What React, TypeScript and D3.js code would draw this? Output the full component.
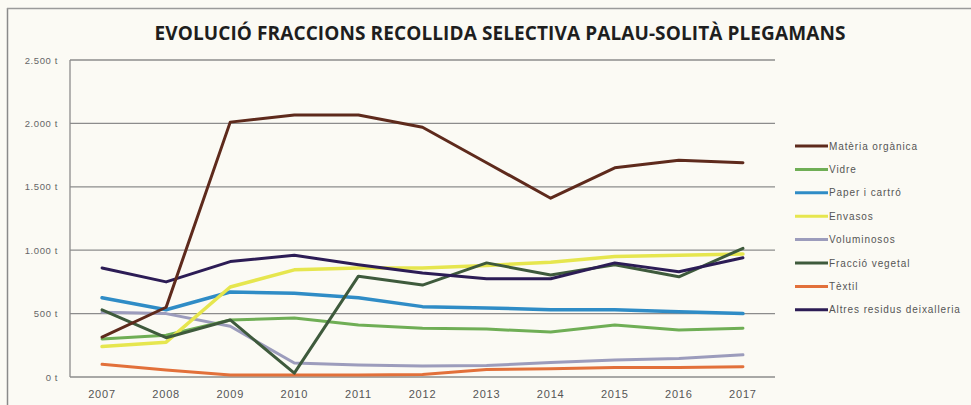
import React from "react";
import * as d3 from "d3";

const years = ["2007","2008","2009","2010","2011","2012","2013","2014","2015","2016","2017"];
const materiaOrganica = [315, 550, 2010, 2066, 2066, 1970, 1690, 1410, 1650, 1710, 1690];
const vidre = [300, 330, 450, 465, 410, 385, 378, 355, 410, 370, 385];
const paperCartro = [625, 530, 670, 660, 625, 555, 545, 530, 530, 515, 500];
const envasos = [240, 275, 710, 845, 860, 860, 880, 905, 950, 960, 970];
const voluminosos = [510, 500, 400, 110, 95, 87, 90, 115, 135, 145, 175];
const fraccioVegetal = [530, 310, 450, 30, 795, 725, 900, 805, 885, 790, 1015];
const textil = [100, 55, 15, 15, 15, 20, 60, 65, 75, 75, 80];
const altres = [860, 750, 910, 960, 885, 820, 775, 775, 900, 830, 940];
const yTicks = [0, 500, 1000, 1500, 2000, 2500];
const seriesNames = ["Matèria orgànica","Vidre","Paper i cartró","Envasos","Voluminosos","Fracció vegetal","Tèxtil","Altres residus deixalleria"];
const seriesColors = ["#5e2a1c","#6fae55","#2f8cc6","#e6e64e","#9c9cbc","#3e5a3c","#e2703a","#2c1c55"];
const seriesWidths = [3, 3, 3.5, 3.5, 3, 3, 3, 3];

export default function App() {
  const W = 971, H = 405;
  const left = 70, right = 775, top = 60, bottom = 377;
  const x = d3.scaleBand().domain(years).range([left, right]);
  const y = d3.scaleLinear().domain([0, 2500]).range([bottom, top]);
  const allSeries = [materiaOrganica, vidre, paperCartro, envasos, voluminosos, fraccioVegetal, textil, altres];
  const line = d3.line<number>()
    .x((_, i) => (x(years[i]) as number) + x.bandwidth() / 2)
    .y((d) => y(d));
  const drawOrder = [4, 6, 1, 2, 3, 5, 7, 0];
  const fmt = (v: number) => d3.format(",")(v).replace(/,/g, ".") + " t";
  return (
    <svg width={W} height={H} style={{ position: "absolute", left: 0, top: 0, background: "#fbfaf4" }}
      fontFamily="'Liberation Sans', Arial, sans-serif">
      <rect x={0} y={0} width={W} height={H} fill="#fbfaf4" />
      <line x1={7.5} x2={7.5} y1={8} y2={H} stroke="#8a8a8a" strokeWidth={1.5} />
      <line x1={7} x2={W} y1={8.5} y2={8.5} stroke="#9a9a9a" strokeWidth={1.5} />
      <text x={500} y={40} textAnchor="middle" fontSize={19} fontWeight="bold" fill="#1e1e1e"
        fontFamily="'Open Sans', 'Liberation Sans', sans-serif" letterSpacing={0.1}>
        EVOLUCIÓ FRACCIONS RECOLLIDA SELECTIVA PALAU-SOLITÀ PLEGAMANS
      </text>
      {yTicks.map((t) => (
        <g key={t}>
          <line x1={left} x2={right} y1={y(t)} y2={y(t)} stroke="#8c8c8c" strokeWidth={1.3} />
          <text x={58} y={y(t) + 3.5} textAnchor="end" fontSize={9.5} letterSpacing={0.6} fill="#666">{fmt(t)}</text>
        </g>
      ))}
      <line x1={left} x2={left} y1={top} y2={bottom} stroke="#8c8c8c" strokeWidth={1.3} />
      {years.map((yr) => (
        <text key={yr} x={(x(yr) as number) + x.bandwidth() / 2} y={398} textAnchor="middle" fontSize={11} letterSpacing={0.8} fill="#555">{yr}</text>
      ))}
      {drawOrder.map((i) => (
        <path key={i} d={line(allSeries[i]) || ""} fill="none" stroke={seriesColors[i]}
          strokeWidth={seriesWidths[i]} strokeLinejoin="round" strokeLinecap="round" />
      ))}
      {seriesNames.map((n, i) => {
        const ly = 146 + i * 23.4;
        return (
          <g key={n}>
            <line x1={795} x2={828} y1={ly} y2={ly} stroke={seriesColors[i]} strokeWidth={3} />
            <text x={829} y={ly + 3.5} fontSize={10} letterSpacing={0.9} fill="#555">{n}</text>
          </g>
        );
      })}
    </svg>
  );
}
